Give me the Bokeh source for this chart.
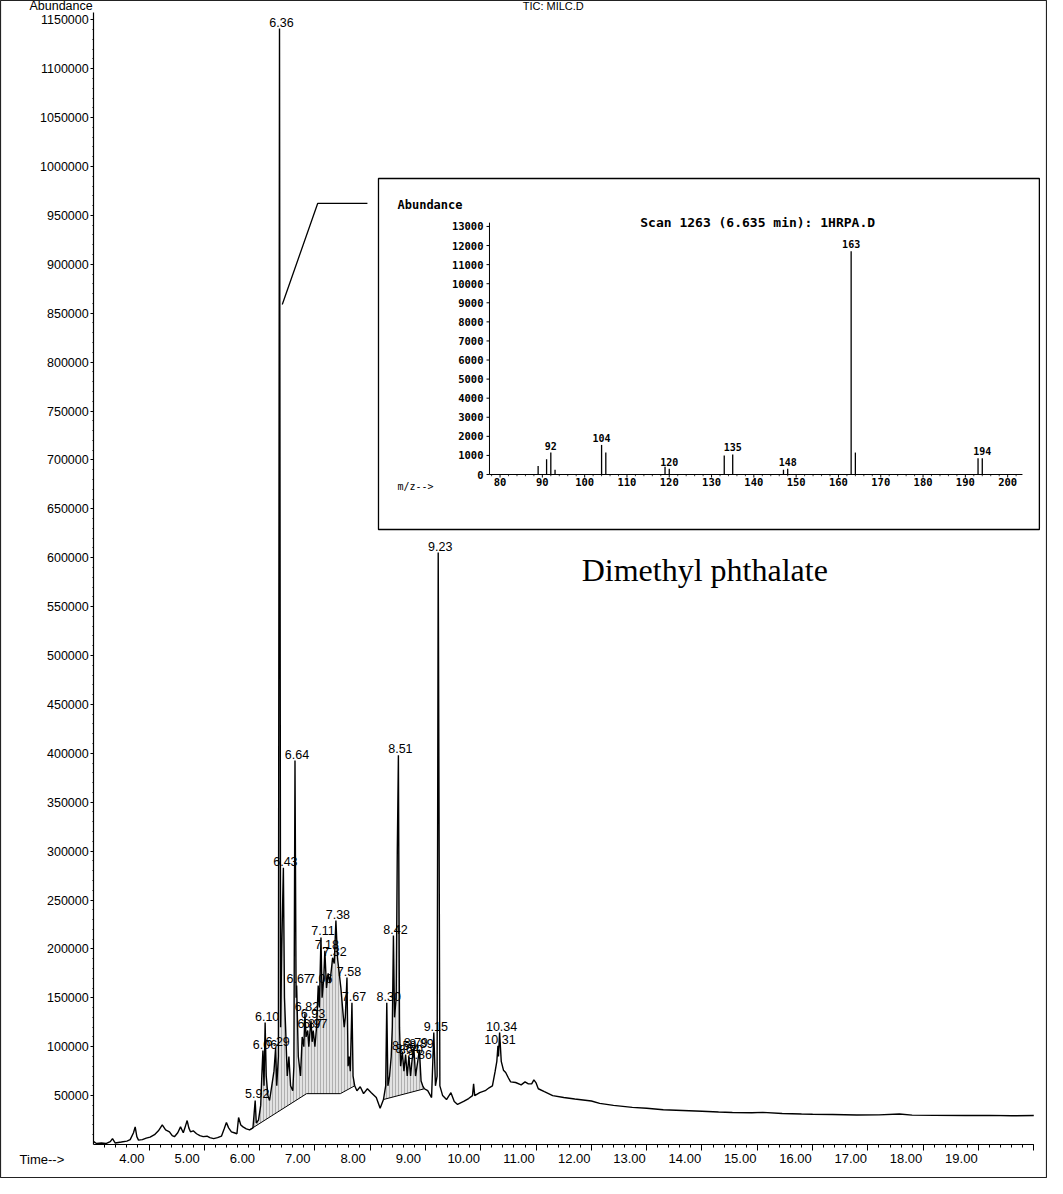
import numpy as np
from bokeh.plotting import figure
from bokeh.models import Range1d, FixedTicker, Label, LinearAxis, BasicTickFormatter
from bokeh.core.properties import value
from bokeh.embed import file_html
from bokeh.resources import INLINE

# ---------------- TIC chromatogram (time in min, abundance) ----------------
time_early = [3.00, 3.05, 3.14, 3.22, 3.30, 3.34, 3.39, 3.50, 3.60, 3.66, 3.72, 3.75, 3.78, 3.81,
              3.88, 3.95, 4.02, 4.10, 4.17, 4.24, 4.30, 4.37, 4.42, 4.46, 4.52, 4.57, 4.62, 4.66,
              4.69, 4.72, 4.75, 4.80, 4.86, 4.92, 4.98, 5.05, 5.10, 5.17, 5.24, 5.31, 5.36, 5.40,
              5.44, 5.49, 5.54, 5.59, 5.62, 5.66, 5.70, 5.76]
abund_early = [3000, 1000, 1500, 1000, 3000, 6000, 1500, 2500, 3500, 5000, 12000, 18000, 8000, 4500,
               5000, 6500, 7500, 10000, 14000, 20000, 15000, 13000, 9000, 8000, 12000, 18000, 12000, 19000,
               24500, 17000, 13000, 14000, 11000, 9000, 8000, 8500, 7000, 6000, 7000, 8500, 16000, 22500,
               17000, 13000, 12000, 11000, 27600, 20000, 18000, 16000]

time_peaks = [5.82, 5.88, 5.92, 5.94, 5.98, 6.02, 6.04, 6.06, 6.08, 6.10, 6.12, 6.15, 6.18, 6.22,
              6.26, 6.29, 6.31, 6.34, 6.36, 6.38, 6.40, 6.43, 6.45, 6.47, 6.50, 6.53, 6.56, 6.60,
              6.62, 6.64, 6.66, 6.67, 6.70, 6.74, 6.77, 6.80, 6.82, 6.84, 6.87, 6.89, 6.91, 6.93,
              6.95, 6.97, 7.00, 7.03, 7.06, 7.08, 7.11, 7.13, 7.16, 7.18, 7.21, 7.24, 7.27, 7.30,
              7.32, 7.35, 7.38, 7.41, 7.44, 7.47, 7.50, 7.53, 7.55, 7.58, 7.60, 7.62, 7.64, 7.67,
              7.69, 7.72, 7.76, 7.82, 7.88, 7.95, 8.02, 8.11, 8.18, 8.24, 8.28, 8.30, 8.32, 8.35,
              8.38, 8.40, 8.42, 8.44, 8.47, 8.49, 8.51, 8.53, 8.55, 8.58, 8.61, 8.64, 8.67, 8.70,
              8.73, 8.76, 8.79, 8.82, 8.86, 8.89, 8.92, 8.95, 8.98, 9.04, 9.11, 9.15, 9.18, 9.21,
              9.23, 9.26, 9.31, 9.38, 9.46, 9.52, 9.58, 9.69, 9.78, 9.85, 9.87, 9.89, 9.98, 10.08,
              10.15, 10.21, 10.26, 10.29, 10.31, 10.32, 10.34, 10.37, 10.41, 10.45, 10.50, 10.54]
abund_peaks = [15000, 17000, 45000, 22000, 25000, 40000, 70000, 96000, 60000, 124700, 70000, 50000, 45000, 60000,
               75000, 99000, 60000, 90000, 1141000, 120000, 200000, 283000, 150000, 120000, 70000, 90000, 60000, 55000,
               80000, 392600, 150000, 162600, 90000, 70000, 110000, 100000, 134000, 110000, 116600, 100000, 115000, 126800,
               105000, 116600, 100000, 120000, 162600, 140000, 211700, 150000, 170000, 198000, 160000, 175000, 165000, 180000,
               191000, 185000, 229000, 190000, 175000, 160000, 140000, 120000, 130000, 170700, 80000, 90000, 75000, 145000,
               70000, 60000, 55000, 59000, 52000, 57000, 53000, 48000, 37000, 46000, 60000, 145000, 60000, 70000,
               90000, 120000, 213700, 130000, 150000, 300000, 398000, 120000, 80000, 95000, 75000, 92000, 70000, 90000,
               70000, 88000, 98000, 70000, 85000, 97000, 65000, 60000, 57000, 55000, 48000, 114500, 60000, 70000,
               605300, 60000, 50000, 46000, 53000, 44000, 41000, 44000, 47000, 50000, 62000, 50000, 53000, 55000,
               58000, 60000, 75000, 85000, 101000, 90000, 114500, 85000, 76000, 73600, 68000, 64000]

time_tail = [10.63, 10.73, 10.80, 10.86, 10.92, 10.96, 11.00, 11.04, 11.15, 11.30, 11.50, 11.70, 12.00,
             12.15, 12.40, 12.74, 13.00, 13.30, 13.65, 14.00, 14.30, 14.55, 14.90, 15.10, 15.45, 15.80,
             16.00, 16.36, 16.80, 17.20, 17.57, 17.80, 18.20, 18.76, 19.20, 19.60, 20.00]
abund_tail = [63400, 61000, 64000, 62000, 62000, 66000, 63000, 57000, 54000, 50000, 48000, 46500, 44500,
              42000, 40000, 38000, 37000, 35500, 34800, 34000, 33200, 32700, 32400, 32800, 31700, 31200,
              31000, 30700, 30200, 30300, 31200, 30000, 29800, 29600, 29800, 29400, 29600]

# integration baselines drawn under the peak clusters
base1_time = [5.82, 6.85, 7.46, 7.72]
base1_abund = [15000, 52000, 52000, 60000]
base2_time = [8.24, 8.98]
base2_abund = [46000, 57000]

# labelled peaks
peak_text = ["5.92", "6.06", "6.10", "6.29", "6.36", "6.43", "6.64", "6.67", "6.82", "6.87", "6.93",
             "6.97", "7.06", "7.11", "7.18", "7.32", "7.38", "7.58", "7.67", "8.30", "8.42", "8.51",
             "8.58", "8.64", "8.70", "8.79", "8.86", "8.89", "9.15", "9.23", "10.31", "10.34"]
peak_rt = [5.92, 6.06, 6.10, 6.29, 6.36, 6.43, 6.64, 6.67, 6.82, 6.87, 6.93,
           6.97, 7.06, 7.11, 7.18, 7.32, 7.38, 7.58, 7.67, 8.30, 8.42, 8.51,
           8.58, 8.64, 8.70, 8.79, 8.86, 8.89, 9.15, 9.23, 10.31, 10.34]
peak_top = [45000, 96000, 124700, 99000, 1141000, 283000, 392600, 162600, 134000, 116600, 126800,
            116600, 162600, 211700, 198000, 191000, 229000, 170700, 145000, 145000, 213700, 398000,
            95000, 92000, 90000, 98000, 85000, 97000, 114500, 605300, 101000, 114500]

x_ticks = [4, 5, 6, 7, 8, 9, 10, 11, 12, 13, 14, 15, 16, 17, 18, 19]
x_tick_text = ["4.00", "5.00", "6.00", "7.00", "8.00", "9.00", "10.00", "11.00", "12.00", "13.00",
               "14.00", "15.00", "16.00", "17.00", "18.00", "19.00"]
y_ticks = [50000, 100000, 150000, 200000, 250000, 300000, 350000, 400000, 450000, 500000, 550000, 600000,
           650000, 700000, 750000, 800000, 850000, 900000, 950000, 1000000, 1050000, 1100000, 1150000]

# callout from the 6.36 peak to the spectrum
callout_time = [6.41, 7.05, 7.95]
callout_abund = [858900, 962200, 962200]

# ---------------- inset mass spectrum ----------------
ms_mz = [89, 91, 92, 93, 104, 105, 119, 120, 133, 135, 147, 148, 163, 164, 193, 194]
ms_abund = [450, 800, 1150, 250, 1550, 1150, 400, 300, 1000, 1050, 250, 300, 11700, 1150, 850, 850]
ms_label_mz = [92, 104, 120, 135, 148, 163, 194]
ms_label_abund = [1150, 1550, 300, 1050, 300, 11700, 850]
ms_label_text = ["92", "104", "120", "135", "148", "163", "194"]
ms_x_ticks = [80, 90, 100, 110, 120, 130, 140, 150, 160, 170, 180, 190, 200]
ms_y_ticks = [0, 1000, 2000, 3000, 4000, 5000, 6000, 7000, 8000, 9000, 10000, 11000, 12000, 13000]

FONT = "Liberation Sans"
MONO = "DejaVu Sans Mono"

# the frame fills the whole canvas; the axes sit inside it at fixed locations
X0, X1 = 1.3146, 20.248
p = figure(width=1047, height=1178, x_range=Range1d(X0, X1), y_range=Range1d(-34765, 1169740),
           output_backend="svg", toolbar_location=None,
           min_border_left=0, min_border_right=0, min_border_top=0, min_border_bottom=0)
p.grid.visible = False
p.outline_line_color = "#222222"
p.outline_line_width = 1.2
p.background_fill_color = "white"
p.border_fill_color = "white"

p.extra_x_ranges = {"mz": Range1d(-38.10, 209.42), "xlab": Range1d(X0 + 0.31, X1 + 0.31)}
p.extra_y_ranges = {"ab": Range1d(-36897, 24843)}

# main x axis: line and short ticks every 0.2 min
xa = p.xaxis[0]
xa.fixed_location = 0
xa.bounds = (3.0, 20.0)
xa.ticker = FixedTicker(ticks=[], minor_ticks=[round(3.2 + 0.2 * i, 2) for i in range(85)])
xa.minor_tick_out = 3
xa.minor_tick_in = 0
xa.axis_line_color = "black"
xa.axis_line_width = 1.2
xa.minor_tick_line_color = "black"

# longer ticks at whole minutes
xt = LinearAxis(fixed_location=0, ticker=FixedTicker(ticks=[], minor_ticks=x_ticks + [20]),
                axis_line_color=None, minor_tick_out=6, minor_tick_in=0,
                minor_tick_line_color="black", major_tick_line_color=None)
p.add_layout(xt, "below")

# tick labels, which sit to the left of their ticks
xl = LinearAxis(x_range_name="xlab", fixed_location=0, ticker=FixedTicker(ticks=x_ticks),
                major_label_overrides={t: s for t, s in zip(x_ticks, x_tick_text)},
                axis_line_color=None, major_tick_line_color=None, minor_tick_line_color=None,
                major_tick_out=0, major_tick_in=0, major_label_standoff=9,
                major_label_text_font=FONT, major_label_text_font_size="13px",
                major_label_text_color="black")
p.add_layout(xl, "below")

ya = p.yaxis[0]
ya.fixed_location = 3.0
ya.bounds = (0, 1157000)
ya.ticker = FixedTicker(ticks=y_ticks, minor_ticks=list(range(10000, 1157000, 10000)))
ya.formatter = BasicTickFormatter(use_scientific=False)
ya.major_label_text_font = FONT
ya.major_label_text_font_size = "12.5px"
ya.major_label_text_color = "black"
ya.major_label_standoff = 2
ya.major_tick_out = 3
ya.major_tick_in = 0
ya.minor_tick_out = 1
ya.minor_tick_in = 0
ya.axis_line_color = "black"
ya.axis_line_width = 1.2

# integration shading and baselines
def shade(t0, t1, bt, bv):
    xs = [t for t in time_peaks if t0 <= t <= t1]
    ys = [v for t, v in zip(time_peaks, abund_peaks) if t0 <= t <= t1]
    return xs + bt[::-1], ys + bv[::-1]

sx1, sy1 = shade(base1_time[0], base1_time[-1], base1_time, base1_abund)
sx2, sy2 = shade(base2_time[0], base2_time[-1], base2_time, base2_abund)
p.patches(xs=[sx1, sx2], ys=[sy1, sy2], fill_color="#e2e2e2", line_color=None,
          hatch_pattern="|", hatch_color="#9a9a9a", hatch_scale=3, hatch_weight=0.7)
p.line(base1_time, base1_abund, line_color="black", line_width=1)
p.line(base2_time, base2_abund, line_color="black", line_width=1)

# the chromatogram trace
all_t = time_early + time_peaks + time_tail
all_v = abund_early + abund_peaks + abund_tail
p.line(all_t, all_v, line_color="black", line_width=1.4)

# peak labels
p.text(x=peak_rt, y=peak_top, text=peak_text, x_offset=2, y_offset=-2,
       text_align="center", text_baseline="bottom",
       text_font=value(FONT), text_font_size=value("12.5px"), text_color="black")

p.add_layout(Label(x=1.66, y=-15300, text="Time-->", text_align="left", text_baseline="middle",
                   text_font=FONT, text_font_size="13px", text_color="black"))
p.add_layout(Label(x=3.0, y=1164600, x_offset=-1, text="Abundance", text_align="right",
                   text_baseline="middle", text_font=FONT, text_font_size="12.5px", text_color="black"))
p.add_layout(Label(x=11.31, y=1164600, text="TIC: MILC.D", text_align="center",
                   text_baseline="middle", text_font=FONT, text_font_size="11px", text_color="black"))

# callout line
p.line(callout_time, callout_abund, line_color="black", line_width=1.3)

# ---------- inset ----------
R = dict(x_range_name="mz", y_range_name="ab")
p.quad(left=51.26, right=207.5, bottom=-2883, top=15514, fill_color="white",
       line_color="black", line_width=1.3, **R)
p.line([77.5, 77.5], [0, 13200], line_color="black", line_width=1, **R)
p.line([77.5, 203.5], [0, 0], line_color="black", line_width=1, **R)
p.segment(x0=[77.5] * len(ms_y_ticks), y0=ms_y_ticks, x1=[76.8] * len(ms_y_ticks), y1=ms_y_ticks,
          line_color="black", line_width=1, **R)
p.segment(x0=ms_x_ticks, y0=[0] * len(ms_x_ticks), x1=ms_x_ticks, y1=[-160] * len(ms_x_ticks),
          line_color="black", line_width=1, **R)
ms_minor = [m for m in range(78, 204, 2) if m % 10]
p.segment(x0=ms_minor, y0=[0] * len(ms_minor), x1=ms_minor, y1=[-90] * len(ms_minor),
          line_color="black", line_width=0.8, **R)
p.segment(x0=ms_mz, y0=[0] * len(ms_mz), x1=ms_mz, y1=ms_abund, line_color="black", line_width=1.3, **R)
p.text(x=[77.5] * len(ms_y_ticks), y=ms_y_ticks, text=[str(v) for v in ms_y_ticks], x_offset=-6,
       text_align="right", text_baseline="middle", text_font=value(MONO), text_font_style="bold",
       text_font_size=value("10.5px"), text_color="black", **R)
p.text(x=ms_x_ticks, y=[0] * len(ms_x_ticks), text=[str(v) for v in ms_x_ticks], y_offset=3,
       text_align="center", text_baseline="top", text_font=value(MONO), text_font_style="bold",
       text_font_size=value("10.5px"), text_color="black", **R)
p.text(x=ms_label_mz, y=ms_label_abund, text=ms_label_text, y_offset=-3,
       text_align="center", text_baseline="bottom", text_font=value(MONO), text_font_style="bold",
       text_font_size=value("10px"), text_color="black", **R)
p.text(x=[55.75], y=[14151], text=["Abundance"], text_align="left", text_baseline="middle",
       text_font=value(MONO), text_font_style="bold", text_font_size=value("12px"), text_color="black", **R)
p.text(x=[140.9], y=[13208], text=["Scan 1263 (6.635 min): 1HRPA.D"], text_align="center",
       text_baseline="middle", text_font=value(MONO), text_font_style="bold",
       text_font_size=value("13px"), text_color="black", **R)
p.text(x=[55.75], y=[-629], text=["m/z-->"], text_align="left", text_baseline="middle",
       text_font=value(MONO), text_font_size=value("10px"), text_color="black", **R)

p.add_layout(Label(x=14.05, y=587900, text="Dimethyl phthalate", text_align="center",
                   text_baseline="middle", text_font="Liberation Serif", text_font_size="32px",
                   text_color="black"))

open("out.html", "w").write(file_html(p, INLINE))
